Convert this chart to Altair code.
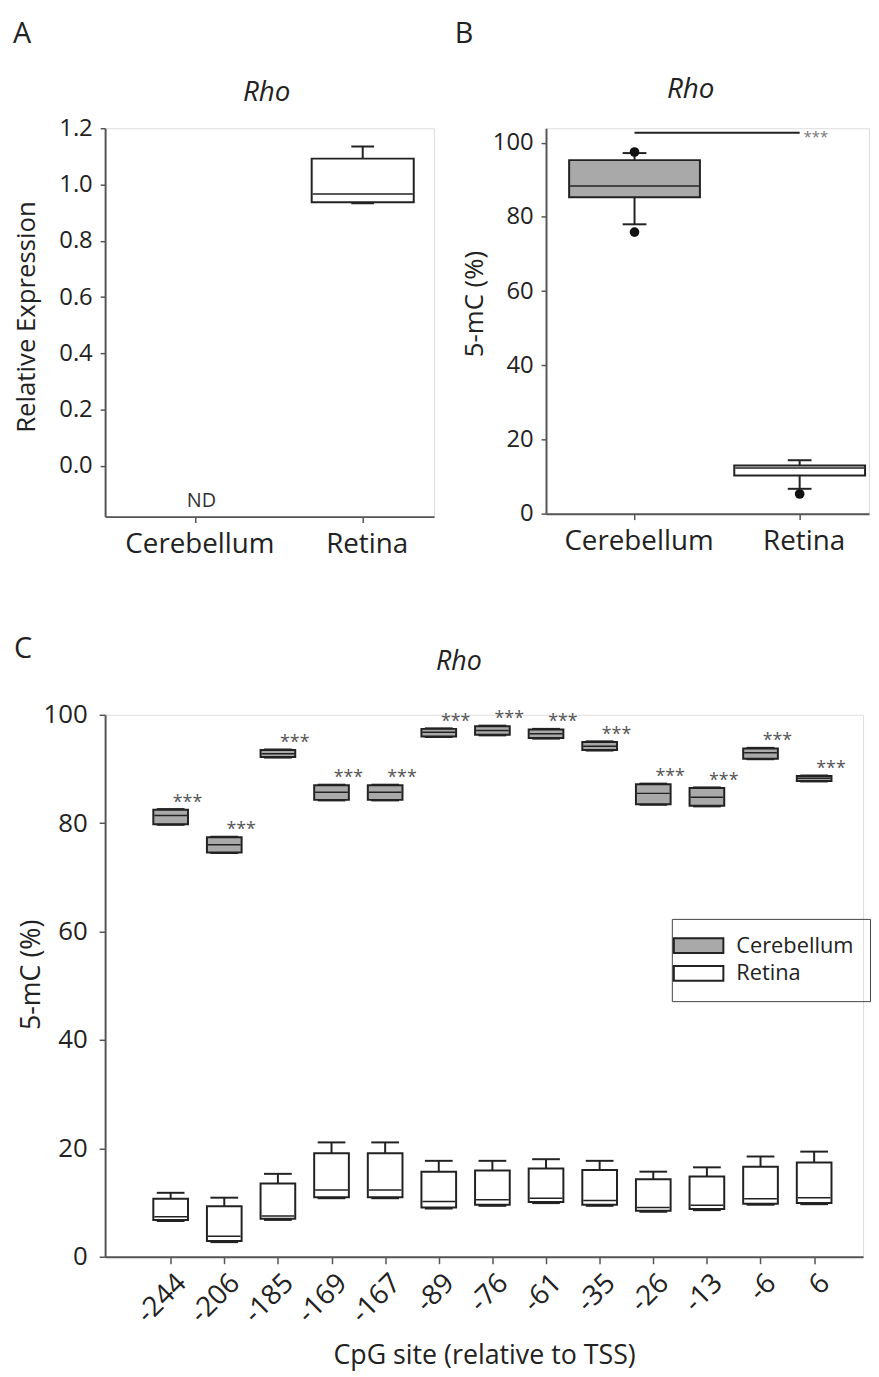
import json
import altair as alt
import pandas as pd

FONT = "Open Sans"
DARK = "#222222"
AXIS_GREY = "#555555"
GREY_FILL = "#a9a9a9"

TISSUES = ["Cerebellum", "Retina"]

# ---------------- Panel A: relative expression (Cerebellum not detected) ----
A_TISSUE = ["Retina"]
A_LO = [0.933]
A_Q1 = [0.937]
A_MED = [0.966]
A_Q3 = [1.092]
A_HI = [1.135]
A_ND_TISSUE = ["Cerebellum"]
A_ND_TEXT = ["ND"]
A_ND_Y = [-0.126]
A_YTICKS = [0.0, 0.2, 0.4, 0.6, 0.8, 1.0, 1.2]

# ---------------- Panel B: 5-mC (%) overall -----------------------------------
B_TISSUE = ["Cerebellum", "Retina"]
B_LO = [78.0, 6.7]
B_Q1 = [85.3, 10.3]
B_MED = [88.3, 12.3]
B_Q3 = [95.3, 13.0]
B_HI = [97.2, 14.4]
B_OUT_TISSUE = ["Cerebellum", "Cerebellum", "Retina"]
B_OUT = [97.5, 75.9, 5.3]
B_SIG_Y = [102.7]
B_SIG_TEXT = ["***"]
B_YTICKS = [0, 20, 40, 60, 80, 100]

# ---------------- Panel C: 5-mC (%) per CpG site ------------------------------
C_SITES = ["-244", "-206", "-185", "-169", "-167", "-89", "-76", "-61",
           "-35", "-26", "-13", "-6", "6"]
CB_LO = [79.7, 74.5, 92.1, 84.2, 84.2, 95.9, 96.2, 95.6, 93.4, 83.4, 83.1, 91.8, 87.7]
CB_Q1 = [79.8, 74.6, 92.2, 84.3, 84.3, 96.0, 96.3, 95.7, 93.5, 83.5, 83.2, 91.9, 87.8]
CB_MED = [81.4, 76.0, 92.8, 85.7, 85.7, 96.8, 97.1, 96.5, 94.2, 85.5, 84.8, 93.0, 88.3]
CB_Q3 = [82.5, 77.4, 93.5, 87.0, 87.0, 97.4, 97.9, 97.3, 95.0, 87.2, 86.5, 93.8, 88.7]
CB_HI = [82.6, 77.5, 93.6, 87.1, 87.1, 97.5, 98.0, 97.4, 95.1, 87.3, 86.6, 93.9, 88.8]
RT_LO = [6.6, 2.7, 6.8, 10.8, 10.8, 8.9, 9.4, 9.9, 9.4, 8.3, 8.6, 9.6, 9.7]
RT_Q1 = [6.8, 2.9, 7.0, 11.0, 11.0, 9.1, 9.6, 10.1, 9.6, 8.5, 8.8, 9.8, 9.9]
RT_MED = [7.4, 3.8, 7.5, 12.3, 12.3, 10.2, 10.5, 10.8, 10.4, 9.1, 9.5, 10.7, 10.9]
RT_Q3 = [10.7, 9.3, 13.5, 19.1, 19.1, 15.7, 15.9, 16.3, 16.0, 14.3, 14.8, 16.6, 17.4]
RT_HI = [11.8, 10.9, 15.3, 21.1, 21.1, 17.7, 17.7, 18.0, 17.7, 15.7, 16.5, 18.5, 19.4]
C_SIG_TEXT = ["***"] * 13
C_YTICKS = [0, 20, 40, 60, 80, 100]

# ---------------- helpers -----------------------------------------------------
AX = dict(domainColor=AXIS_GREY, domainWidth=2, tickColor=AXIS_GREY, tickWidth=1.5,
          labelColor=DARK, titleColor=DARK, labelFont=FONT, titleFont=FONT,
          titleFontWeight="normal", grid=False)


def box_layers(df, X, Yf, box_w, cap_w, fill):
    base = alt.Chart(df)
    whisk = base.mark_rule(color=DARK, strokeWidth=2).encode(x=X, y=Yf("lo"), y2="hi:Q")
    box = base.mark_bar(size=box_w, stroke=DARK, strokeWidth=2, orient="vertical").encode(
        x=X, y=Yf("q1"), y2="q3:Q", fill=fill)
    med = base.mark_tick(orient="horizontal", size=box_w - 2, thickness=1.5, color=DARK,
                         opacity=1).encode(x=X, y=Yf("med"))
    cap_hi = base.mark_tick(orient="horizontal", size=cap_w, thickness=2, color=DARK,
                            opacity=1).encode(x=X, y=Yf("hi"))
    cap_lo = base.mark_tick(orient="horizontal", size=cap_w, thickness=2, color=DARK,
                            opacity=1).encode(x=X, y=Yf("lo"))
    return [whisk, box, med, cap_hi, cap_lo]


def text_layer(text, x, y, size, italic=False, baseline="top", align="left"):
    return alt.Chart(pd.DataFrame({"t": [text]})).mark_text(
        font=FONT, fontSize=size, fontStyle="italic" if italic else "normal",
        align=align, baseline=baseline, color=DARK).encode(
        text="t:N", x=alt.value(x), y=alt.value(y))


def tissue_expr():
    return json.dumps(TISSUES) + "[datum.value]"


# ---------------- Panel A -----------------------------------------------------
dfA = pd.DataFrame({"pos": [TISSUES.index(t) for t in A_TISSUE], "lo": A_LO, "q1": A_Q1,
                    "med": A_MED, "q3": A_Q3, "hi": A_HI})
dfA_nd = pd.DataFrame({"pos": [TISSUES.index(t) for t in A_ND_TISSUE], "y": A_ND_Y,
                       "label": A_ND_TEXT})
A_XS = alt.Scale(domain=[-0.511, 1.397], nice=False, zero=False)
A_YS = alt.Scale(domain=[-0.18, 1.2], nice=False, zero=False)
A_XAXIS = alt.Axis(values=[0, 1], labelExpr=tissue_expr(), tickSize=6, labelPadding=8,
                   labelFontSize=28, labelOffset=4, title=None, **AX)
A_YAXIS = alt.Axis(values=A_YTICKS, format=".1f", tickSize=5, labelPadding=8,
                   labelFontSize=24, title="Relative Expression", titleFontSize=26,
                   titleX=-66, titleY=190, **AX)
AX_A = alt.X("pos:Q", scale=A_XS, axis=A_XAXIS)


def AY(f):
    return alt.Y(f"{f}:Q", scale=A_YS, axis=A_YAXIS)


a_layers = box_layers(dfA, AX_A, AY, 103, 23, alt.value("white"))
a_nd = alt.Chart(dfA_nd).mark_text(font=FONT, fontSize=20, dx=6, baseline="middle",
                                   color="#333333").encode(x=AX_A, y=AY("y"), text="label:N")
panelA = alt.layer(*a_layers, a_nd,
                   text_layer("A", -93, -109, 29),
                   text_layer("Rho", 163, -27, 28, italic=True, baseline="alphabetic",
                              align="center")).properties(width=332, height=392)

# ---------------- Panel B -----------------------------------------------------
dfB = pd.DataFrame({"tissue": B_TISSUE, "pos": [TISSUES.index(t) for t in B_TISSUE],
                    "lo": B_LO, "q1": B_Q1, "med": B_MED, "q3": B_Q3, "hi": B_HI})
dfB_out = pd.DataFrame({"pos": [TISSUES.index(t) for t in B_OUT_TISSUE], "v": B_OUT})
dfB_sig = pd.DataFrame({"x0": [0], "x1": [1], "y": B_SIG_Y, "label": B_SIG_TEXT})
B_XS = alt.Scale(domain=[-0.506, 1.390], nice=False, zero=False)
B_YS = alt.Scale(domain=[0, 103.9], nice=False, zero=False)
B_XAXIS = alt.Axis(values=[0, 1], labelExpr=tissue_expr(), tickSize=6, labelPadding=8,
                   labelFontSize=28, labelOffset=4, title=None, **AX)
B_YAXIS = alt.Axis(values=B_YTICKS, tickSize=5, labelPadding=8, labelFontSize=24,
                   title="5-mC (%)", titleFontSize=26, titleX=-59, titleY=177, **AX)
BX = alt.X("pos:Q", scale=B_XS, axis=B_XAXIS)


def BY(f):
    return alt.Y(f"{f}:Q", scale=B_YS, axis=B_YAXIS)


b_fill = alt.condition("datum.tissue == 'Cerebellum'", alt.value(GREY_FILL), alt.value("white"))
b_layers = box_layers(dfB, BX, BY, 132, 24, b_fill)
b_out = alt.Chart(dfB_out).mark_circle(size=95, color="#111111", opacity=1).encode(
    x=BX, y=BY("v"))
b_sig = alt.Chart(dfB_sig).mark_rule(color=DARK, strokeWidth=2).encode(
    x=alt.X("x0:Q", scale=B_XS, axis=B_XAXIS), x2="x1:Q", y=BY("y"))
b_sig_txt = alt.Chart(dfB_sig).mark_text(font=FONT, fontSize=15, align="left",
                                         baseline="alphabetic", dx=4, dy=9,
                                         color="#777777").encode(
    x=alt.X("x1:Q", scale=B_XS, axis=B_XAXIS), y=BY("y"), text="label:N")
panelB = alt.layer(*b_layers, b_out, b_sig, b_sig_txt,
                   text_layer("B", -92, -109, 29),
                   text_layer("Rho", 146, -31, 28, italic=True, baseline="alphabetic",
                              align="center")).properties(width=326, height=389)

# ---------------- Panel C -----------------------------------------------------
n = len(C_SITES)
dfC = pd.concat([
    pd.DataFrame({"group": "Cerebellum", "pos": list(range(n)), "lo": CB_LO, "q1": CB_Q1,
                  "med": CB_MED, "q3": CB_Q3, "hi": CB_HI}),
    pd.DataFrame({"group": "Retina", "pos": list(range(n)), "lo": RT_LO, "q1": RT_Q1,
                  "med": RT_MED, "q3": RT_Q3, "hi": RT_HI}),
], ignore_index=True)
dfC_sig = pd.DataFrame({"pos": list(range(n)), "y": CB_Q3, "label": C_SIG_TEXT})
C_XS = alt.Scale(domain=[-1.13, 12.82], nice=False, zero=False)
C_YS = alt.Scale(domain=[0, 100], nice=False, zero=False)
C_XAXIS = alt.Axis(values=list(range(n)), labelExpr=json.dumps(C_SITES) + "[datum.value]",
                   tickSize=7, labelPadding=15, labelOffset=11, labelAngle=315,
                   labelAlign="right", labelBaseline="middle", labelFontSize=28,
                   labelOverlap=False, labelFlush=False,
                   title="CpG site (relative to TSS)", titleFontSize=27, titlePadding=15, **AX)
C_YAXIS = alt.Axis(values=C_YTICKS, tickSize=6, labelPadding=12, labelFontSize=26,
                   title="5-mC (%)", titleFontSize=27, titleX=-60, titleY=262, **AX)
CX = alt.X("pos:Q", scale=C_XS, axis=C_XAXIS)


def CY(f):
    return alt.Y(f"{f}:Q", scale=C_YS, axis=C_YAXIS)


c_fill = alt.Fill("group:N", scale=alt.Scale(domain=TISSUES, range=[GREY_FILL, "white"]),
                  legend=alt.Legend(title=None, orient="none", legendX=572, legendY=798,
                                    symbolType="M-2.5,-0.75H2.5V0.75H-2.5Z", symbolSize=400,
                                    symbolStrokeColor=DARK, symbolStrokeWidth=2,
                                    symbolOpacity=1,
                                    labelFont=FONT, labelFontSize=22, labelColor=DARK,
                                    labelOffset=27, padding=16, rowPadding=4,
                                    strokeColor="#444444"))
c_layers = box_layers(dfC, CX, CY, 35, 28, c_fill)
c_sig = alt.Chart(dfC_sig).mark_text(font=FONT, fontSize=18, align="center",
                                     baseline="alphabetic", dx=17, dy=-2,
                                     color="#555555").encode(x=CX, y=CY("y"), text="label:N")
panelC = alt.layer(*c_layers, c_sig,
                   text_layer("C", -92, -80, 29),
                   text_layer("Rho", 357, -45, 27, italic=True, baseline="alphabetic",
                              align="center")).properties(width=765, height=547)

top = alt.hconcat(panelA, panelB, spacing=113, bounds="flush")
chart = alt.vconcat(top, panelC, spacing=76).properties(
    padding={"left": 4, "top": 5, "right": 0, "bottom": 0}
).configure_view(strokeWidth=0).configure(font=FONT)

chart.save("out.html", embed_options={"renderer": "svg", "actions": False})
